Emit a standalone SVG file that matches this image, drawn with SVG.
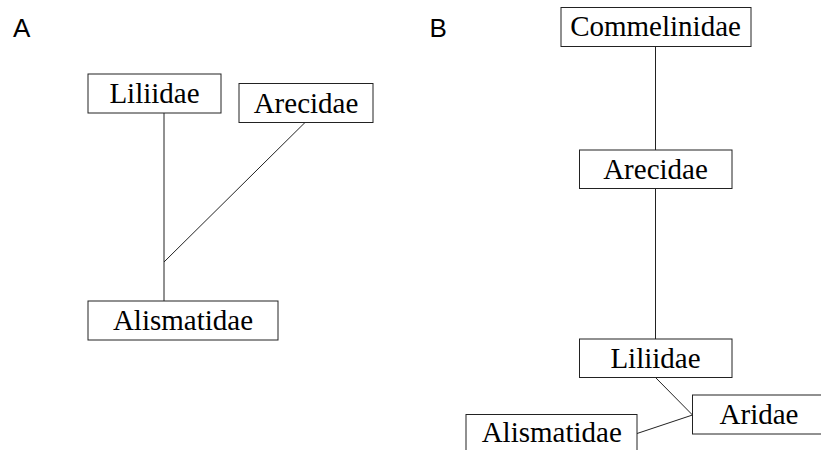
<svg xmlns="http://www.w3.org/2000/svg" width="821" height="450" viewBox="0 0 821 450">
<style>
.box{fill:#fff;stroke:#222;stroke-width:1}
.lbl{font-family:"Liberation Serif","Times New Roman",serif;font-size:29px;fill:#000;text-anchor:middle}
.pl{font-family:"Liberation Sans",Arial,sans-serif;font-size:26px;fill:#000}
.edge{stroke:#222;stroke-width:1;fill:none}
</style>
<rect width="821" height="450" fill="#fff"/>
<text class="pl" x="13" y="36.7">A</text>
<text class="pl" x="429.5" y="36.7">B</text>
<g id="connectors">
<line class="edge" x1="164" y1="113" x2="164" y2="301"/>
<line class="edge" x1="305" y1="122.5" x2="164" y2="262"/>
<line class="edge" x1="655.5" y1="46.5" x2="655.5" y2="150"/>
<line class="edge" x1="655.5" y1="188.5" x2="655.5" y2="339"/>
<line class="edge" x1="655.5" y1="377.5" x2="692.5" y2="415"/>
<line class="edge" x1="692.5" y1="415" x2="637" y2="433.5"/>
</g>
<g id="A-Liliidae"><rect class="box" x="88" y="74" width="133" height="39"/><text class="lbl" x="154.5" y="102.7">Liliidae</text></g>
<g id="A-Arecidae"><rect class="box" x="239" y="83.5" width="134" height="39"/><text class="lbl" x="306" y="112.7">Arecidae</text></g>
<g id="A-Alismatidae"><rect class="box" x="88" y="301" width="190" height="39"/><text class="lbl" x="183" y="330">Alismatidae</text></g>
<g id="B-Commelinidae"><rect class="box" x="561" y="7.5" width="190" height="39"/><text class="lbl" x="655.5" y="36">Commelinidae</text></g>
<g id="B-Arecidae"><rect class="box" x="579.5" y="150" width="152.5" height="38.5"/><text class="lbl" x="655.5" y="178.5">Arecidae</text></g>
<g id="B-Liliidae"><rect class="box" x="579.5" y="339" width="152.5" height="38.5"/><text class="lbl" x="655.5" y="367.7">Liliidae</text></g>
<g id="B-Aridae"><rect class="box" x="692.5" y="395" width="134" height="39"/><text class="lbl" x="759" y="423.5">Aridae</text></g>
<g id="B-Alismatidae"><rect class="box" x="466" y="414.5" width="171" height="39"/><text class="lbl" x="551.7" y="442">Alismatidae</text></g>
</svg>
